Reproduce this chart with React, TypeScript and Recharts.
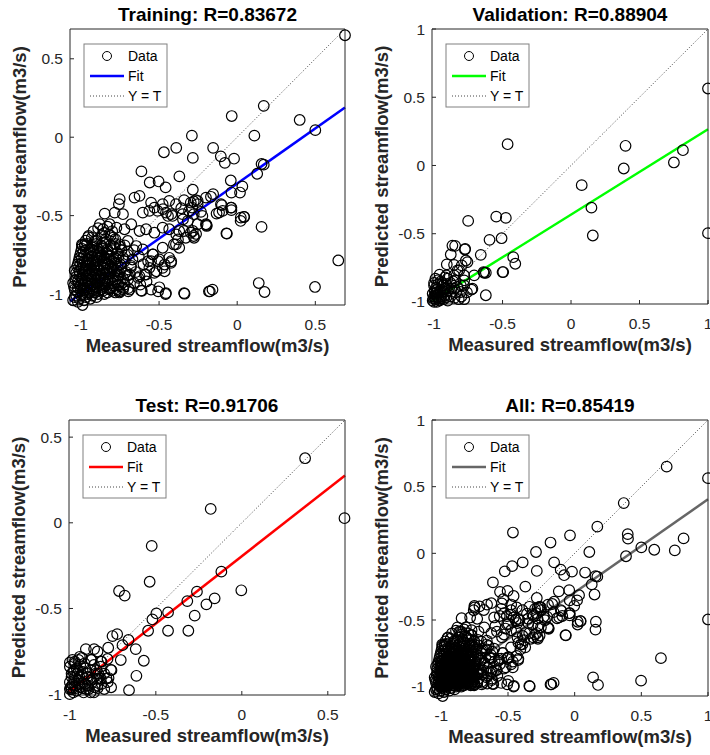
import React from 'react'
import { ScatterChart, Scatter, XAxis, YAxis, ReferenceLine } from 'recharts'

type Pt = [number, number]

// [measured, predicted] streamflow, normalised to [-1, 1]
const trainingPoints: Pt[] = [
  [0.69, 0.65], [0.17, 0.2], [-0.035, 0.135], [0.4, 0.11], [0.5, 0.045], [-0.29, 0.01], [0.11, 0.01],
  [-0.39, -0.068], [-0.154, -0.068], [-0.469, -0.096], [-0.105, -0.122], [-0.02, -0.137], [-0.284, -0.132],
  [-0.079, -0.164], [0.156, -0.171], [0.17, -0.175], [0.128, -0.233], [-0.613, -0.218], [-0.37, -0.25],
  [-0.041, -0.276], [-0.56, -0.289], [-0.503, -0.282], [-0.458, -0.32], [0.033, -0.314], [-0.284, -0.335],
  [-0.154, -0.363], [-0.168, -0.38], [-0.037, -0.353], [0.018, -0.353], [-0.098, -0.433], [-0.037, -0.449],
  [-0.037, -0.465], [-0.116, -0.48], [-0.132, -0.487], [0.043, -0.508], [0.022, -0.534], [-0.232, -0.476],
  [-0.253, -0.406], [-0.253, -0.427], [-0.196, -0.56], [-0.253, -0.555], [-0.263, -0.617], [-0.069, -0.613],
  [0.156, -0.572], [0.647, -0.786], [0.138, -0.93], [0.175, -0.987], [0.498, -0.955], [-0.175, -0.983],
  [-0.158, -0.972], [-0.337, -0.998], [-0.506, -0.983], [-0.458, -1.0], [-0.61, -0.98], [-0.697, -0.983],
  [-0.754, -0.99], [-0.752, -0.395], [-0.757, -0.427], [-0.625, -0.374], [-0.657, -0.385], [-0.551, -0.417],
  [-0.53, -0.449], [-0.477, -0.427], [-0.435, -0.406], [-0.392, -0.427], [-0.34, -0.401], [-0.297, -0.417],
  [-0.265, -0.401], [-0.2, -0.385], [-0.848, -0.487], [-0.784, -0.481], [-0.731, -0.491], [-0.604, -0.481],
  [-0.562, -0.47], [-0.509, -0.47], [-0.456, -0.481], [-0.414, -0.502], [-0.35, -0.491], [-0.308, -0.47],
  [-0.223, -0.502], [-0.879, -0.555], [-0.858, -0.587], [-0.816, -0.555], [-0.773, -0.577], [-0.721, -0.587],
  [-0.678, -0.555], [-0.625, -0.598], [-0.583, -0.587], [-0.53, -0.609], [-0.477, -0.577], [-0.435, -0.587],
  [-0.371, -0.598], [-0.329, -0.641], [-0.297, -0.609], [-0.276, -0.641], [-0.2, -0.555], [-0.954, -0.637],
  [-0.975, -0.683], [-0.911, -0.662], [-0.858, -0.673], [-0.795, -0.641], [-0.752, -0.683], [-0.7, -0.662],
  [-0.646, -0.694], [-0.604, -0.715], [-0.541, -0.747], [-0.477, -0.705], [-0.435, -0.769], [-0.392, -0.683],
  [-0.371, -0.705], [-0.551, -0.79], [-0.498, -0.779], [-0.477, -0.833], [-0.424, -0.801], [-0.562, -0.833],
  [-0.583, -0.876], [-0.53, -0.865], [-0.625, -0.887], [-0.615, -0.978], [-0.551, -0.972], [-0.498, -0.957],
  [-0.456, -0.994], [-0.34, -0.994], [-0.181, -0.983], [-0.689, -0.972], [-0.752, -0.983], [-0.278, -0.41],
  [-0.288, -0.449], [-0.278, -0.491], [-0.284, -0.598], [-0.278, -0.63], [-0.341, -0.598], [-0.39, -0.62],
  [-0.379, -0.652], [-0.405, -0.684], [-0.347, -0.524], [-0.422, -0.491], [-0.443, -0.502], [-0.475, -0.459],
  [-0.358, -0.453], [-0.316, -0.534], [-0.195, -0.566], [-0.066, -0.615], [-0.104, -0.427], [-0.093, -0.47],
  [-0.04, -0.449], [0.023, -0.513], [0.045, -0.509], [-0.538, -0.748], [-0.506, -0.791], [-0.464, -0.812],
  [-0.422, -0.791], [-0.57, -0.791], [-0.517, -0.855], [-0.464, -0.855], [-0.591, -0.876], [-0.633, -0.897],
  [-0.686, -0.876], [-0.697, -0.962], [-0.99, -1.07], [-0.951, -0.63], [-0.994, -0.684],
  [-0.82, -0.62], [-0.79, -0.7], [-0.74, -0.72], [-0.7, -0.75], [-0.67, -0.78], [-0.66, -0.72], [-0.63, -0.76],
  [-0.6, -0.81], [-0.68, -0.83], [-0.65, -0.86], [-0.72, -0.87], [-0.7, -0.91], [-0.66, -0.93], [-0.62, -0.94],
  [-0.58, -0.92], [-0.76, -0.94], [-0.73, -0.97],
  // dense low-flow cluster
  [-1.05, -1.04], [-1.03, -1.01], [-1.01, -1.03], [-0.99, -1.0], [-0.97, -1.02], [-0.95, -0.99], [-0.93, -1.01],
  [-0.91, -0.99], [-0.89, -1.0], [-0.86, -0.98], [-0.83, -0.99], [-0.8, -0.98],
  [-1.04, -0.97], [-1.02, -0.96], [-1.0, -0.98], [-0.98, -0.96], [-0.96, -0.97], [-0.94, -0.95], [-0.92, -0.97],
  [-0.9, -0.96], [-0.87, -0.97], [-0.85, -0.95], [-0.82, -0.96], [-0.79, -0.95], [-0.77, -0.97], [-0.73, -0.96],
  [-1.05, -0.93], [-1.02, -0.92], [-1.0, -0.94], [-0.97, -0.92], [-0.95, -0.93], [-0.93, -0.91], [-0.9, -0.93],
  [-0.88, -0.91], [-0.86, -0.93], [-0.83, -0.92], [-0.8, -0.93], [-0.78, -0.91], [-0.75, -0.92], [-0.72, -0.94],
  [-1.03, -0.89], [-1.01, -0.88], [-0.99, -0.9], [-0.96, -0.88], [-0.94, -0.89], [-0.91, -0.87], [-0.89, -0.89],
  [-0.87, -0.88], [-0.84, -0.9], [-0.82, -0.87], [-0.79, -0.89], [-0.76, -0.88], [-0.73, -0.9], [-0.7, -0.88],
  [-1.04, -0.85], [-1.0, -0.84], [-0.98, -0.86], [-0.95, -0.84], [-0.93, -0.85], [-0.9, -0.83], [-0.88, -0.85],
  [-0.85, -0.84], [-0.83, -0.86], [-0.8, -0.84], [-0.77, -0.85], [-0.74, -0.83], [-0.71, -0.86],
  [-1.02, -0.81], [-0.99, -0.8], [-0.97, -0.82], [-0.94, -0.8], [-0.91, -0.81], [-0.89, -0.79], [-0.86, -0.81],
  [-0.84, -0.8], [-0.81, -0.82], [-0.78, -0.8], [-0.75, -0.81], [-0.72, -0.79], [-0.68, -0.82],
  [-1.01, -0.77], [-0.98, -0.76], [-0.96, -0.78], [-0.93, -0.76], [-0.9, -0.77], [-0.87, -0.75], [-0.85, -0.77],
  [-0.82, -0.76], [-0.79, -0.78], [-0.76, -0.76], [-0.73, -0.77],
  [-1.0, -0.73], [-0.97, -0.72], [-0.94, -0.74], [-0.92, -0.72], [-0.89, -0.73], [-0.86, -0.71], [-0.83, -0.73],
  [-0.8, -0.72], [-0.77, -0.74], [-0.74, -0.72], [-0.7, -0.73],
  [-0.99, -0.69], [-0.96, -0.68], [-0.93, -0.7], [-0.9, -0.68], [-0.87, -0.69], [-0.84, -0.67], [-0.81, -0.69],
  [-0.78, -0.68], [-0.75, -0.7], [-0.72, -0.69],
  [-0.97, -0.66], [-0.93, -0.64], [-0.9, -0.66], [-0.87, -0.63], [-0.84, -0.65], [-0.81, -0.63], [-0.78, -0.65],
  [-0.92, -0.6], [-0.89, -0.58], [-0.85, -0.61], [-0.83, -0.57], [-0.8, -0.6],
  [-1.04, -1.02], [-1.02, -1.05], [-1.0, -1.01], [-0.98, -1.04], [-0.96, -1.0], [-0.94, -1.03], [-0.92, -0.99],
  [-0.9, -1.02], [-0.88, -0.98], [-0.85, -1.0], [-0.82, -0.97], [-0.78, -0.99], [-0.75, -0.98],
  [-1.045, -0.95], [-1.025, -0.985], [-1.005, -0.955], [-0.985, -0.975], [-0.965, -0.945], [-0.945, -0.98],
  [-0.925, -0.94], [-0.905, -0.975], [-0.885, -0.945], [-0.865, -0.955], [-0.84, -0.94], [-0.81, -0.965],
  [-0.76, -0.945],
  [-1.035, -0.91], [-1.015, -0.935], [-0.995, -0.905], [-0.975, -0.935], [-0.955, -0.9], [-0.935, -0.93],
  [-0.915, -0.895], [-0.895, -0.92], [-0.875, -0.9], [-0.85, -0.915], [-0.825, -0.895], [-0.795, -0.91],
  [-0.765, -0.9],
  [-1.03, -0.865], [-1.01, -0.855], [-0.99, -0.875], [-0.97, -0.85], [-0.95, -0.87], [-0.925, -0.855],
  [-0.905, -0.875], [-0.885, -0.845], [-0.86, -0.865], [-0.835, -0.85], [-0.81, -0.87], [-0.785, -0.855],
  [-0.755, -0.865],
  [-1.025, -0.825], [-1.005, -0.815], [-0.985, -0.83], [-0.96, -0.815], [-0.94, -0.835], [-0.915, -0.82],
  [-0.895, -0.835], [-0.875, -0.815], [-0.85, -0.83], [-0.825, -0.81], [-0.795, -0.83], [-0.765, -0.815],
  [-1.015, -0.79], [-0.995, -0.775], [-0.975, -0.795], [-0.95, -0.78], [-0.925, -0.795], [-0.9, -0.785],
  [-0.88, -0.765], [-0.86, -0.79], [-0.835, -0.775], [-0.805, -0.79], [-0.775, -0.775],
  [-1.005, -0.75], [-0.985, -0.735], [-0.96, -0.755], [-0.935, -0.735], [-0.91, -0.75], [-0.885, -0.74],
  [-0.86, -0.755], [-0.835, -0.74], [-0.81, -0.755],
  [-0.995, -0.71], [-0.975, -0.695], [-0.945, -0.715], [-0.92, -0.695], [-0.895, -0.71], [-0.865, -0.7],
  [-0.83, -0.715],
]

const validationPoints: Pt[] = [
  [1.0, 0.564], [1.0, -0.496], [-0.463, 0.156], [0.398, 0.144], [0.817, 0.112], [0.751, 0.022], [0.385, -0.022],
  [0.078, -0.144], [0.149, -0.309], [0.159, -0.513], [-0.751, -0.406], [-0.546, -0.375], [-0.476, -0.384],
  [-0.595, -0.545], [-0.507, -0.533], [-0.659, -0.655], [-0.422, -0.672], [-0.407, -0.72], [-0.495, -0.781],
  [-0.622, -0.786], [-0.639, -0.781], [-0.622, -0.951], [-0.846, -0.589], [-0.773, -0.611], [-0.878, -0.652],
  [-0.907, -0.725], [-0.768, -0.696], [-0.756, -0.708], [-0.798, -0.732], [-0.707, -0.805], [-0.727, -0.91],
  [-0.829, -0.769], [-0.854, -0.805], [-0.902, -0.83], [-0.915, -0.903], [-0.854, -0.903], [-0.805, -0.927],
  [-0.78, -0.842], [-0.805, -0.878], [-0.866, -0.587], [-0.775, -0.616], [-0.854, -0.728], [-0.817, -0.769],
  [-0.91, -0.806], [-0.78, -0.806], [-0.846, -0.842], [-0.78, -0.879], [-0.72, -0.903], [-0.634, -0.786],
  [-0.5, -0.781],
  [-1.0, -1.0], [-0.99, -0.98], [-0.98, -1.0], [-0.97, -0.97], [-1.0, -0.96], [-0.99, -0.94], [-0.96, -0.99],
  [-0.95, -0.96], [-0.94, -0.93], [-0.98, -0.91], [-1.0, -0.88], [-0.97, -0.87], [-0.93, -0.98], [-0.92, -0.95],
  [-0.9, -0.99], [-0.9, -0.92], [-0.88, -0.96], [-0.87, -0.9], [-0.95, -0.85], [-0.92, -0.82], [-0.99, -0.83],
  [-0.96, -0.8], [-0.85, -0.97], [-0.84, -0.93], [-0.82, -0.98], [-0.88, -0.86], [-1.01, -0.99], [-0.995, -0.92],
  [-0.975, -0.95], [-0.955, -0.915], [-0.935, -0.88], [-0.91, -0.87], [-0.86, -0.85], [-0.83, -0.89],
  [-0.8, -0.96], [-0.76, -0.93], [-0.78, -0.98],
  [-1.005, -0.975], [-0.985, -0.955], [-0.965, -0.935], [-0.945, -0.975], [-0.925, -0.905], [-0.985, -0.895],
  [-0.965, -0.985], [-0.91, -0.965], [-0.94, -0.86], [-0.97, -0.84], [-1.0, -0.86], [-0.89, -0.9],
  [-0.93, -0.925], [-1.01, -0.94], [-0.98, -0.93],
]

const testPoints: Pt[] = [
  [0.368, 0.377], [0.597, 0.027], [-0.181, 0.081], [-0.524, -0.135], [-0.119, -0.285], [-0.536, -0.344],
  [-0.003, -0.394], [-0.261, -0.402], [-0.714, -0.398], [-0.681, -0.425], [-0.317, -0.457], [-0.158, -0.441],
  [-0.206, -0.476], [-0.429, -0.523], [-0.497, -0.529], [-0.274, -0.542], [-0.52, -0.564], [-0.545, -0.63],
  [-0.429, -0.63], [-0.311, -0.63], [-0.752, -0.661], [-0.725, -0.65], [-0.659, -0.684], [-0.694, -0.714],
  [-0.617, -0.737], [-0.777, -0.729], [-0.57, -0.805], [-0.704, -0.801], [-0.613, -0.893], [-0.656, -0.977],
  [-0.907, -0.737], [-0.859, -0.737], [-0.839, -0.751], [-0.93, -0.789], [-0.878, -0.799], [-0.82, -0.809],
  [-0.781, -0.795], [-0.762, -0.858], [-0.775, -0.906], [-0.83, -0.906], [-0.839, -0.965], [-0.971, -0.811],
  [-0.942, -0.782], [-0.874, -0.801], [-0.816, -0.811], [-0.787, -0.908], [-0.758, -0.86],
  [-1.0, -1.0], [-0.99, -0.97], [-0.98, -0.99], [-0.97, -0.95], [-1.0, -0.93], [-0.99, -0.9], [-0.96, -0.98],
  [-0.95, -0.92], [-0.94, -0.96], [-0.93, -0.89], [-0.98, -0.87], [-1.0, -0.84], [-0.96, -0.85], [-0.92, -0.99],
  [-0.91, -0.94], [-0.9, -0.9], [-0.89, -0.97], [-0.88, -0.86], [-0.87, -0.93], [-0.86, -0.99], [-0.85, -0.88],
  [-0.84, -0.95], [-0.82, -0.91], [-0.8, -0.97], [-0.94, -0.83], [-0.91, -0.85], [-0.995, -0.96], [-0.975, -0.92],
  [-0.955, -0.88], [-0.93, -0.94], [-0.905, -0.97], [-0.88, -0.99], [-0.865, -0.91], [-0.845, -0.86],
  [-0.82, -0.84], [-0.8, -0.88], [-0.78, -0.93], [-0.76, -0.96], [-0.97, -0.82], [-0.95, -0.8],
  [-1.0, -0.97], [-0.985, -0.945], [-0.965, -0.965], [-0.945, -0.94], [-0.925, -0.965], [-0.99, -0.88],
  [-0.97, -0.9], [-0.945, -0.9], [-0.925, -0.87], [-0.9, -0.88], [-0.975, -0.86], [-0.95, -0.86],
  [-0.895, -0.95], [-0.875, -0.92], [-0.855, -0.96], [-0.84, -0.91], [-0.815, -0.94], [-1.0, -0.815],
  [-0.985, -0.8], [-0.915, -0.82], [-0.86, -0.83], [-0.835, -0.88],
]

const allPoints: Pt[] = [...trainingPoints, ...validationPoints, ...testPoints]

// linear fits: predicted = slope * measured + intercept
const trainingFit = { slope: 0.703, intercept: -0.295 }
const validationFit = { slope: 0.625, intercept: -0.36 }
const testFit = { slope: 0.786, intercept: -0.195 }
const allFit = { slope: 0.698, intercept: -0.293 }

const trainingLimits: [number, number] = [-1.07, 0.69]
const validationLimits: [number, number] = [-1.015, 1]
const testLimits: [number, number] = [-1.005, 0.6]
const allLimits: [number, number] = [-1.07, 1]

const ticksHalf = [-1, -0.5, 0, 0.5]
const ticksOne = [-1, -0.5, 0, 0.5, 1]

const FONT = '"Liberation Sans", Arial, Helvetica, sans-serif'
const INK = '#262626'

type Frame = { left: number; top: number; width: number; height: number }
type Box = { x0: number; x1: number; y0: number; y1: number }

const ring = (p: any) => (
  <circle cx={p.cx} cy={p.cy} r={5.3} fill="none" stroke="#000" strokeWidth={1.2} />
)

function RegressionPanel(props: {
  title: string
  points: Pt[]
  fit: { slope: number; intercept: number }
  color: string
  limits: [number, number]
  ticks: number[]
  frame: Frame
  box: Box
}) {
  const { title, points, fit, color, limits, ticks, frame, box } = props
  const data = points.map(([x, y]) => ({ x, y }))
  const [lo, hi] = limits
  const fitSegment = [
    { x: lo, y: fit.slope * lo + fit.intercept },
    { x: hi, y: fit.slope * hi + fit.intercept },
  ]
  const margin = {
    left: box.x0 - frame.left - 1,
    right: frame.left + frame.width - box.x1 - 1,
    top: box.y0 - frame.top - 1,
    bottom: frame.top + frame.height - box.y1 - 1,
  }
  const bx = box.x0 - frame.left
  const by = box.y0 - frame.top
  const bw = box.x1 - box.x0
  const bh = box.y1 - box.y0
  const tickStyle = { fontSize: 15.5, fill: INK, fontFamily: FONT }
  const axisProps = {
    type: 'number' as const,
    domain: limits,
    ticks,
    interval: 0 as const,
    tickSize: -4,
    axisLine: { stroke: INK },
    tickLine: { stroke: INK },
  }

  return (
    <div style={{ position: 'absolute', left: frame.left, top: frame.top, width: frame.width, height: frame.height }}>
      <ScatterChart width={frame.width} height={frame.height} margin={margin}>
        <XAxis xAxisId="b" dataKey="x" height={1} tickMargin={18} tick={tickStyle} {...axisProps} />
        <XAxis xAxisId="t" orientation="top" dataKey="x" height={1} tick={false} {...axisProps} />
        <YAxis yAxisId="l" dataKey="y" width={1} tickMargin={11} tick={tickStyle} {...axisProps} />
        <YAxis yAxisId="r" orientation="right" dataKey="y" width={1} tick={false} {...axisProps} />
        <Scatter xAxisId="b" yAxisId="l" data={data} shape={ring} isAnimationActive={false} />
        <ReferenceLine
          xAxisId="b"
          yAxisId="l"
          segment={[{ x: lo, y: lo }, { x: hi, y: hi }]}
          stroke="#444"
          strokeWidth={1}
          strokeDasharray="1 2"
          ifOverflow="visible"
        />
        <ReferenceLine
          xAxisId="b"
          yAxisId="l"
          segment={fitSegment}
          stroke={color}
          strokeWidth={2.5}
          ifOverflow="visible"
        />
      </ScatterChart>
      <svg
        width={frame.width}
        height={frame.height}
        style={{ position: 'absolute', left: 0, top: 0, pointerEvents: 'none', fontFamily: FONT }}
      >
        <text x={bx + bw / 2} y={by - 8} textAnchor="middle" fontSize={19} fontWeight="bold" fill="#000">
          {title}
        </text>
        <text x={bx + bw / 2} y={by + bh + 47} textAnchor="middle" fontSize={18.5} fontWeight="bold" fill={INK}>
          Measured streamflow(m3/s)
        </text>
        <text
          transform={`translate(${bx - 44}, ${by + bh / 2}) rotate(-90)`}
          textAnchor="middle"
          fontSize={18.5}
          fontWeight="bold"
          fill={INK}
        >
          Predicted streamflow(m3/s)
        </text>
        <g transform={`translate(${bx + 14}, ${by + 15})`}>
          <rect x={0} y={0} width={83} height={63} fill="#fff" stroke="#808080" strokeWidth={1} />
          <circle cx={23} cy={12} r={4.5} fill="none" stroke="#000" strokeWidth={1} />
          <text x={44} y={17} fontSize={14} fill="#000">Data</text>
          <line x1={6} x2={40} y1={32} y2={32} stroke={color} strokeWidth={2.5} />
          <text x={44} y={37} fontSize={14} fill="#000">Fit</text>
          <line x1={6} x2={40} y1={52} y2={52} stroke="#444" strokeWidth={1} strokeDasharray="1 2" />
          <text x={44} y={57} fontSize={14} fill="#000">Y = T</text>
        </g>
      </svg>
    </div>
  )
}

export default function App() {
  return (
    <div style={{ position: 'absolute', left: 0, top: 0, width: 710, height: 755, background: '#fff', overflow: 'hidden' }}>
      <RegressionPanel
        title="Training: R=0.83672"
        points={trainingPoints}
        fit={trainingFit}
        color="#0000ff"
        limits={trainingLimits}
        ticks={ticksHalf}
        frame={{ left: 0, top: 0, width: 355, height: 377 }}
        box={{ x0: 70, x1: 345, y0: 29, y1: 305 }}
      />
      <RegressionPanel
        title="Validation: R=0.88904"
        points={validationPoints}
        fit={validationFit}
        color="#00ff00"
        limits={validationLimits}
        ticks={ticksOne}
        frame={{ left: 355, top: 0, width: 355, height: 377 }}
        box={{ x0: 432, x1: 708, y0: 29, y1: 304 }}
      />
      <RegressionPanel
        title="Test: R=0.91706"
        points={testPoints}
        fit={testFit}
        color="#ff0000"
        limits={testLimits}
        ticks={ticksHalf}
        frame={{ left: 0, top: 377, width: 355, height: 378 }}
        box={{ x0: 69, x1: 345, y0: 420, y1: 695 }}
      />
      <RegressionPanel
        title="All: R=0.85419"
        points={allPoints}
        fit={allFit}
        color="#666666"
        limits={allLimits}
        ticks={ticksOne}
        frame={{ left: 355, top: 377, width: 355, height: 378 }}
        box={{ x0: 432, x1: 708, y0: 420, y1: 696 }}
      />
    </div>
  )
}
